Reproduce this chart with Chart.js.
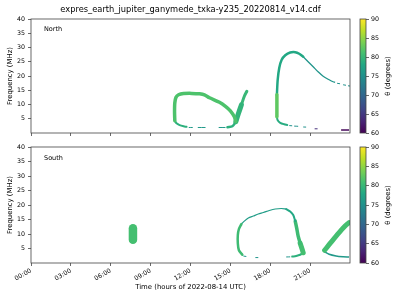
<!DOCTYPE html>
<html><head><meta charset="utf-8">
<script src="https://cdn.jsdelivr.net/npm/chart.js@4.4.0/dist/chart.umd.min.js"></script>
<style>
html,body{margin:0;padding:0;background:#fff;}
#wrap{position:relative;width:400px;height:300px;overflow:hidden;}
#wrap canvas{position:absolute;left:0;top:0;}
</style></head><body>
<div id="wrap">
<canvas id="cNorth" width="400" height="300"></canvas>
<canvas id="cSouth" width="400" height="300"></canvas>
<canvas id="cbNorth" width="400" height="300"></canvas>
<canvas id="cbSouth" width="400" height="300"></canvas>
</div>
<script>
// ---------------- DATA ----------------
const chartTitle = 'expres_earth_jupiter_ganymede_txka-y235_20220814_v14.cdf';
const panelLabels = ['North', 'South'];
const timeTicks = [0, 3, 6, 9, 12, 15, 18, 21];           // hours
const timeTickLabels = ['00:00','03:00','06:00','09:00','12:00','15:00','18:00','21:00'];
const freqTicks = [5, 10, 15, 20, 25, 30, 35, 40];          // MHz
const thetaTicks = [60, 65, 70, 75, 80, 85, 90];            // degrees
const xTitle = 'Time (hours of 2022-08-14 UTC)';
const yTitle = 'Frequency (MHz)';
const cbTitle = 'θ (degrees)';

// North hemisphere emission features: [time (h), frequency (MHz)], null = gap
const northLoopBand = [[10.82,4.28],[10.80,7.44],[10.82,10.60],[10.91,12.54],[11.10,13.41],[11.48,13.83],[12.08,13.90],[12.68,13.76],[13.05,13.41],[13.43,12.36],[14.18,10.78],[14.63,9.38],[15.00,7.79],[15.30,5.69],[15.41,3.93]];
const northLoopLower = [[10.82,4.28],[10.95,3.41],[11.18,2.77],[11.48,2.35],[11.70,2.18]];
const northLoopDashes = [[11.87,1.93],[12.17,1.93],null,[12.55,1.93],[13.13,1.93],null,[14.12,1.93],[14.63,1.93]];
const northWingFoot = [[14.78,2.00],[15.15,2.35],[15.41,3.93]];
const northWingBase = [[15.41,3.93],[15.60,6.74],[15.83,9.90]];
const northWingTip = [[15.83,9.90],[16.05,12.89],[16.24,14.64]];
const northArcVertical = [[18.50,5.69],[18.50,13.41]];
const northArcUpper = [[18.50,13.41],[18.56,18.68],[18.68,22.89],[18.86,25.70],[19.13,27.28],[19.50,28.23],[19.88,28.34],[20.18,27.81],[20.48,26.76]];
const northArcTail = [[20.48,26.76],[20.85,25.00],[21.23,23.24],[21.60,21.49],[21.98,19.91],[22.43,18.68],[22.73,17.98],[22.88,17.80]];
const northArcTailDashes = [[23.03,17.45],[23.25,17.28],null,[23.48,16.92],[23.70,16.75],null,[23.85,16.57],[24.00,16.47]];
const northArcLower = [[18.50,5.69],[18.56,4.46],[18.75,3.58],[19.05,3.05],[19.28,2.81]];
const northArcDashes = [[19.43,2.60],[19.65,2.53],null,[19.80,2.42],[20.10,2.35],null,[20.48,2.11],[20.70,2.07]];
const northLowDash = [[21.34,1.47],[21.56,1.47]];
const northLowestDash = [[23.33,1.05],[23.93,1.05]];
const northTheta = [81.5, 79, 76, 79, 79.5, 80, 82.5, 78, 75.5, 75, 78.5, 75, 64, 60.5];

// South hemisphere emission features
const southBlob = [[7.67,8.0],[7.67,12.0]];
const southLoopLeft = [[15.90,2.84],[15.64,4.40],[15.56,6.83],[15.56,9.60],[15.64,11.68],[15.83,13.41]];
const southLoopTop = [[15.83,13.41],[16.05,14.45],[16.35,15.49],[16.73,16.19],[17.10,16.88],[17.48,17.40],[17.93,18.09],[18.38,18.61],[18.83,18.79],[19.20,18.61]];
const southLoopShoulder = [[19.20,18.61],[19.50,17.75],[19.73,16.53],[19.88,14.45]];
const southLoopRight = [[19.88,14.45],[19.99,12.03],[20.10,9.25],[20.25,6.83]];
const southLoopBase = [[20.25,6.83],[20.40,4.75],[20.48,3.54]];
const southLoopHook = [[20.48,3.54],[20.25,2.84],[19.95,2.43],[19.65,2.22]];
const southLoopDashes = [[15.98,2.39],[16.20,2.25],null,[16.88,1.87],[17.10,1.87],null,[19.20,2.08],[19.50,2.12]];
const southRiseBand = [[22.09,4.40],[22.58,7.18],[23.18,10.47],[23.63,12.72],[23.93,13.93]];
const southRiseLower = [[22.09,3.88],[22.43,3.02],[22.95,2.43],[23.48,2.15],[23.93,2.04]];
const southTheta = [81, 80.5, 76.5, 78, 80.5, 81, 79, 75.5, 81, 76];

const northShapes = [northLoopBand, northLoopLower, northLoopDashes, northWingFoot, northWingBase, northWingTip,
  northArcVertical, northArcUpper, northArcTail, northArcTailDashes, northArcLower, northArcDashes, northLowDash, northLowestDash];
const southShapes = [southBlob, southLoopLeft, southLoopTop, southLoopShoulder, southLoopRight, southLoopBase,
  southLoopHook, southLoopDashes, southRiseBand, southRiseLower];

// ---------------- STYLE ----------------
const northWidths = [3.5, 2, 1, 2.5, 5, 3, 3.5, 2.5, 1.3, 1, 2, 1, 1, 1.5];
const southWidths = [8.5, 2.5, 1.2, 2, 3.5, 5, 2, 1, 5, 1.5];
const VIR = ['#440154','#482475','#414487','#355f8d','#2a788e','#21918c','#22a884','#44bf70','#7ad151','#bddf26','#fde725'];
const FONT = 'DejaVu Sans';
const TICK_FS = 6.3, LABEL_FS = 6.9, TITLE_FS = 8.3;
const AXIS_COLOR = '#444';
Chart.defaults.font.family = FONT;
Chart.defaults.color = '#000';

function hexRgb(h){ return [1,3,5].map(i => parseInt(h.slice(i,i+2),16)); }
function viridis(theta){
  const t = Math.min(1, Math.max(0, (theta - 60) / 30));
  const i = Math.min(9, Math.floor(t * 10));
  const f = t * 10 - i;
  const a = hexRgb(VIR[i]), b = hexRgb(VIR[i+1]);
  const c = a.map((v,k) => Math.round(v + (b[k]-v)*f));
  return `rgb(${c[0]},${c[1]},${c[2]})`;
}
function toPoints(arr){
  return arr.map((p,i) => p ? {x:p[0], y:p[1]} : {x: arr[i-1][0], y: null});
}

const boxPlugin = {
  id: 'box',
  afterDatasetsDraw(chart){
    const {ctx, chartArea:a} = chart;
    ctx.save();
    ctx.strokeStyle = AXIS_COLOR; ctx.lineWidth = 0.8;
    ctx.strokeRect(a.left, a.top, a.right - a.left, a.bottom - a.top);
    ctx.restore();
  }
};

function textPlugin(items){
  return {
    id: 'texts',
    afterDraw(chart){
      const ctx = chart.ctx;
      items.forEach(it => {
        ctx.save();
        ctx.font = `${it.size}px "${FONT}"`;
        ctx.fillStyle = '#000';
        ctx.textAlign = it.align || 'center';
        ctx.textBaseline = 'middle';
        ctx.translate(it.x, it.y);
        if (it.rot) ctx.rotate(it.rot);
        ctx.fillText(it.text, 0, 0);
        ctx.restore();
      });
    }
  };
}

function makePanel(id, shapes, thetas, widths, o){
  const datasets = shapes.map((s, i) => ({
    data: toPoints(s),
    borderColor: viridis(thetas[i]),
    backgroundColor: viridis(thetas[i]),
    borderWidth: widths[i],
    pointRadius: 0,
    fill: false,
    tension: 0.3,
    spanGaps: false,
    borderCapStyle: widths[i] >= 2 ? 'round' : 'butt',
    borderJoinStyle: 'round'
  }));
  new Chart(document.getElementById(id), {
    type: 'line',
    data: { datasets },
    options: {
      responsive: false, animation: false,
      layout: { padding: { left: 6, right: 50, top: o.top, bottom: o.padBottom } },
      plugins: { legend: {display:false}, tooltip: {enabled:false} },
      scales: {
        x: {
          type: 'linear', min: 0, max: 24,
          afterBuildTicks: s => { s.ticks = timeTicks.map(v => ({value: v})); },
          afterFit: s => { s.height = o.xHeight; },
          ticks: {
            autoSkip: false, minRotation: o.showX ? 30 : 0, maxRotation: o.showX ? 30 : 0,
            padding: 1, font: {size: TICK_FS},
            callback: (v) => o.showX ? timeTickLabels[timeTicks.indexOf(v)] : ''
          },
          grid: { drawOnChartArea: false, tickLength: 3, color: AXIS_COLOR, lineWidth: 0.8 },
          border: { display: false },
          title: { display: o.showX, text: xTitle, font: {size: LABEL_FS}, padding: 0 }
        },
        y: {
          type: 'linear', min: 0, max: 40,
          afterBuildTicks: s => { s.ticks = freqTicks.map(v => ({value: v})); },
          afterFit: s => { s.width = 25; },
          ticks: { padding: 3, font: {size: TICK_FS} },
          grid: { drawOnChartArea: false, tickLength: 3, color: AXIS_COLOR, lineWidth: 0.8 },
          border: { display: false },
          title: { display: true, text: yTitle, font: {size: LABEL_FS}, padding: 0 }
        }
      }
    },
    plugins: [boxPlugin, textPlugin(o.texts)]
  });
}

function makeColorbar(id, top, bottom){
  new Chart(document.getElementById(id), {
    type: 'bar',
    data: { labels: ['θ'], datasets: [{
      data: [[thetaTicks[0], thetaTicks[thetaTicks.length-1]]],
      barPercentage: 1, categoryPercentage: 1, borderWidth: 0,
      backgroundColor: (c) => {
        const ch = c.chart, a = ch.chartArea;
        if (!a) return VIR[5];
        const g = ch.ctx.createLinearGradient(0, a.bottom, 0, a.top);
        VIR.forEach((h, i) => g.addColorStop(i / 10, h));
        return g;
      }
    }]},
    options: {
      responsive: false, animation: false,
      layout: { padding: { left: 360, right: 0, top: top, bottom: 300 - bottom } },
      plugins: { legend: {display:false}, tooltip: {enabled:false} },
      scales: {
        x: { display: false },
        y: {
          position: 'right', min: 60, max: 90,
          afterBuildTicks: s => { s.ticks = thetaTicks.map(v => ({value: v})); },
          afterFit: s => { s.width = 34; },
          ticks: { padding: 2, font: {size: TICK_FS} },
          grid: { drawOnChartArea: false, tickLength: 3, color: AXIS_COLOR, lineWidth: 0.8 },
          border: { display: false }
        }
      }
    },
    plugins: [boxPlugin, textPlugin([{text: cbTitle, x: 388, y: (top + bottom) / 2, size: LABEL_FS, rot: -Math.PI/2}])]
  });
}

makePanel('cNorth', northShapes, northTheta, northWidths, {
  top: 19, padBottom: 0, xHeight: 167, showX: false,
  texts: [
    {text: chartTitle, x: 190.5, y: 10, size: TITLE_FS},
    {text: panelLabels[0], x: 44, y: 29.5, size: 6.5, align: 'left'}
  ]
});
makePanel('cSouth', southShapes, southTheta, southWidths, {
  top: 147, padBottom: 9, xHeight: 28, showX: true,
  texts: [ {text: panelLabels[1], x: 44, y: 158.5, size: 6.5, align: 'left'} ]
});
makeColorbar('cbNorth', 19, 133);
makeColorbar('cbSouth', 147, 263);
</script>
</body></html>
